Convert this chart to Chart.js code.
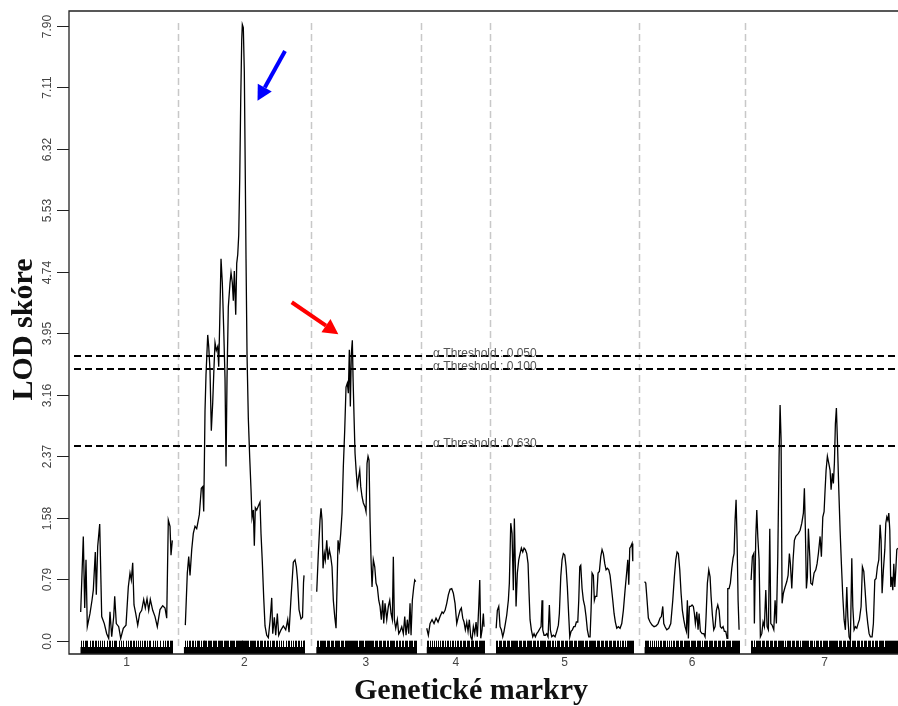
<!DOCTYPE html>
<html>
<head>
<meta charset="utf-8">
<title>LOD skóre</title>
<script src="https://cdn.jsdelivr.net/npm/chart.js@4.4.1/dist/chart.umd.min.js"></script>
<style>
  html, body { margin: 0; padding: 0; background: #ffffff; }
  #wrap { width: 898px; height: 706px; position: relative; }
</style>
</head>
<body>
<div id="wrap"><canvas id="lodChart"></canvas></div>
<script>
// chromosomes and their lengths (cM)
const chromosomes = ["1", "2", "3", "4", "5", "6", "7"];
const chrLength = [92, 121, 99, 58, 137, 95, 147];

// LOD profile per chromosome: position (cM from chromosome start) and LOD score
const chr1Pos = [0.2, 2.8, 4.2, 5.5, 6.8, 9.5, 11.5, 12.8, 14.8, 15.8, 17.2, 19.2, 21.2, 23.8, 26.2, 28.2, 29.5, 31.2, 33.2, 34.2, 35.8, 38.2, 40.2, 42.8, 45.5, 47.8, 49.5, 50.8, 52.2, 53.5, 55.2, 57.2, 59.2, 61.2, 63.2, 64.8, 66.5, 68.2, 69.8, 72.2, 74.5, 76.8, 79.5, 82.2, 84.5, 86.2, 87.8, 89.5, 90.5, 91.8];
const chr1Lod = [0.37, 1.34, 0.42, 1.04, 0.18, 0.35, 0.52, 0.65, 1.14, 0.59, 1.21, 1.50, 0.31, 0.22, 0.09, 0.03, 0.37, 0.05, 0.31, 0.57, 0.22, 0.18, 0.03, 0.16, 0.20, 0.69, 0.87, 0.78, 1.00, 0.46, 0.35, 0.20, 0.35, 0.39, 0.53, 0.42, 0.54, 0.39, 0.53, 0.39, 0.31, 0.18, 0.40, 0.45, 0.42, 0.29, 1.55, 1.47, 1.10, 1.29];

const chr2Pos = [1.4, 3.4, 4.8, 6.1, 7.8, 9.4, 11.1, 12.8, 14.4, 15.4, 17.4, 18.8, 19.8, 20.4, 21.1, 22.1, 23.8, 24.8, 26.1, 27.4, 28.8, 30.1, 31.1, 32.4, 33.8, 34.8, 35.8, 37.1, 38.4, 39.8, 41.1, 42.1, 43.1, 44.4, 46.1, 47.1, 48.4, 49.4, 50.4, 51.8, 52.8, 53.8, 54.8, 55.8, 56.8, 57.8, 58.4, 59.4, 60.4, 61.4, 62.1, 63.1, 64.4, 65.8, 67.1, 68.1, 69.4, 70.4, 71.4, 72.8, 74.4, 76.1, 77.1, 78.4, 79.8, 81.1, 82.8, 84.4, 86.1, 87.8, 88.8, 90.4, 91.8, 93.4, 94.8, 97.1, 99.4, 101.8, 103.8, 105.1, 107.1, 109.4, 111.1, 112.4, 113.6, 115.1, 117.1, 118.6, 119.6, 120.1];
const chr2Lod = [0.20, 0.87, 1.08, 0.84, 1.17, 1.38, 1.47, 1.44, 1.55, 1.62, 1.96, 1.98, 1.66, 2.24, 2.96, 3.42, 3.93, 3.78, 3.47, 2.70, 3.06, 3.52, 3.83, 3.73, 3.78, 3.52, 4.09, 4.91, 4.60, 4.00, 3.37, 2.24, 3.37, 4.29, 4.60, 4.73, 4.60, 4.37, 4.75, 4.19, 4.85, 4.96, 5.21, 5.93, 6.95, 7.72, 7.92, 7.88, 7.31, 5.93, 4.91, 3.68, 2.86, 2.35, 1.94, 1.58, 1.68, 1.22, 1.71, 1.68, 1.73, 1.78, 1.37, 1.01, 0.55, 0.19, 0.07, 0.04, 0.25, 0.55, 0.09, 0.30, 0.07, 0.35, 0.07, 0.14, 0.19, 0.14, 0.27, 0.11, 0.55, 1.01, 1.04, 0.95, 0.78, 0.40, 0.28, 0.30, 0.75, 0.84];

const chr3Pos = [0.4, 2.0, 3.7, 4.7, 5.7, 6.7, 8.0, 9.0, 10.4, 11.7, 13.0, 14.4, 15.7, 17.0, 18.4, 19.7, 20.7, 21.7, 23.0, 24.4, 25.7, 27.0, 28.4, 29.7, 31.0, 32.0, 33.0, 34.0, 35.0, 36.0, 36.7, 37.7, 38.7, 40.0, 41.0, 42.4, 43.4, 44.4, 45.7, 47.0, 48.7, 49.7, 50.7, 51.7, 52.7, 53.7, 54.7, 55.7, 57.0, 58.4, 59.7, 61.0, 62.4, 63.7, 65.0, 66.4, 67.4, 68.7, 70.4, 72.0, 73.4, 74.7, 76.0, 77.0, 78.0, 79.4, 81.0, 82.4, 83.7, 85.4, 87.0, 88.4, 89.7, 91.0, 92.4, 93.7, 94.7, 96.0, 97.4, 98.4, 99.4];
const chr3Lod = [0.63, 1.12, 1.55, 1.70, 1.55, 0.93, 1.12, 1.04, 1.29, 1.04, 1.17, 1.08, 0.95, 0.52, 0.31, 0.16, 0.69, 1.29, 1.17, 1.38, 1.64, 2.24, 2.71, 3.26, 3.31, 3.18, 3.74, 3.01, 3.69, 3.86, 3.39, 2.88, 2.41, 2.15, 1.98, 2.11, 2.19, 1.98, 1.85, 1.77, 1.72, 1.66, 2.28, 2.37, 2.32, 1.55, 1.04, 0.69, 1.04, 0.95, 0.74, 0.69, 0.52, 0.44, 0.27, 0.52, 0.22, 0.48, 0.27, 0.44, 0.52, 0.35, 0.27, 1.08, 0.27, 0.16, 0.27, 0.09, 0.12, 0.18, 0.09, 0.31, 0.07, 0.27, 0.09, 0.48, 0.07, 0.52, 0.69, 0.78, 0.76];

const chr4Pos = [0.0, 1.6, 3.3, 5.3, 7.3, 9.3, 11.3, 13.3, 15.3, 16.6, 18.3, 20.0, 21.6, 23.3, 25.0, 26.6, 28.3, 30.0, 31.6, 33.3, 34.6, 36.0, 37.3, 38.6, 40.0, 41.3, 42.6, 44.0, 45.3, 46.6, 48.0, 49.3, 50.6, 52.0, 53.0, 54.0, 55.3, 56.6, 57.3];
const chr4Lod = [0.16, 0.07, 0.22, 0.27, 0.22, 0.29, 0.24, 0.31, 0.37, 0.35, 0.39, 0.48, 0.59, 0.66, 0.67, 0.61, 0.48, 0.22, 0.31, 0.39, 0.42, 0.29, 0.24, 0.14, 0.24, 0.12, 0.27, 0.05, 0.01, 0.18, 0.09, 0.24, 0.05, 0.44, 0.78, 0.03, 0.14, 0.35, 0.18];

const chr5Pos = [0.0, 1.2, 2.6, 3.9, 5.2, 6.6, 7.9, 9.2, 10.6, 12.2, 13.2, 14.6, 15.9, 17.2, 18.2, 19.2, 19.9, 21.2, 22.6, 23.9, 25.2, 26.6, 27.9, 29.2, 30.6, 31.9, 32.9, 33.9, 35.2, 36.6, 37.9, 39.2, 40.6, 42.2, 43.9, 44.9, 45.9, 46.6, 47.9, 49.2, 50.6, 51.9, 53.2, 54.2, 55.6, 57.2, 58.9, 60.6, 62.2, 63.2, 64.6, 65.9, 67.2, 68.6, 69.9, 71.2, 72.6, 73.6, 74.9, 76.2, 77.6, 78.9, 80.2, 81.6, 82.6, 83.6, 84.6, 85.9, 87.2, 88.6, 89.9, 91.2, 92.6, 93.9, 94.9, 95.9, 97.2, 98.2, 99.2, 100.6, 101.9, 103.2, 104.6, 105.9, 107.2, 108.6, 109.9, 111.2, 112.6, 113.9, 115.2, 116.6, 117.9, 119.2, 120.6, 122.2, 123.9, 125.6, 127.2, 128.9, 130.6, 131.6, 132.6, 133.6, 134.6, 135.9, 136.6];
const chr5Lod = [0.16, 0.39, 0.44, 0.18, 0.14, 0.05, 0.12, 0.22, 0.33, 0.52, 0.74, 1.51, 1.38, 0.65, 1.57, 0.95, 0.44, 0.87, 1.04, 1.12, 1.19, 1.14, 1.19, 1.17, 1.12, 0.99, 0.61, 0.27, 0.14, 0.05, 0.09, 0.05, 0.09, 0.12, 0.16, 0.18, 0.52, 0.14, 0.07, 0.07, 0.09, 0.05, 0.46, 0.14, 0.05, 0.07, 0.05, 0.12, 0.20, 0.35, 0.82, 1.04, 1.12, 1.10, 0.95, 0.69, 0.31, 0.05, 0.12, 0.14, 0.18, 0.18, 0.24, 0.24, 0.52, 0.95, 0.97, 0.67, 0.52, 0.44, 0.31, 0.14, 0.05, 0.05, 0.39, 0.87, 0.84, 0.52, 0.57, 0.57, 0.87, 0.89, 1.08, 1.17, 1.12, 0.99, 0.91, 0.93, 0.91, 0.84, 0.69, 0.52, 0.35, 0.24, 0.16, 0.18, 0.16, 0.22, 0.39, 0.65, 0.89, 1.04, 0.72, 1.19, 1.21, 1.25, 1.02];

const chr6Pos = [0.0, 1.2, 2.5, 3.8, 5.5, 7.5, 9.5, 11.5, 13.5, 15.5, 16.8, 18.2, 19.2, 20.5, 22.2, 24.2, 26.2, 28.2, 29.8, 31.2, 32.5, 33.8, 35.2, 36.5, 37.8, 39.2, 40.5, 41.8, 42.8, 43.8, 44.8, 46.2, 47.5, 48.8, 49.8, 50.8, 52.2, 53.5, 54.5, 55.8, 57.5, 59.2, 60.5, 61.5, 62.8, 64.2, 65.5, 66.5, 67.8, 69.2, 70.5, 71.8, 73.2, 74.5, 75.8, 77.2, 78.5, 79.8, 81.2, 82.5, 83.2, 84.5, 85.8, 87.2, 88.5, 89.5, 90.5, 91.5, 92.5, 93.5, 94.5];
const chr6Lod = [0.76, 0.74, 0.52, 0.29, 0.24, 0.20, 0.18, 0.19, 0.22, 0.29, 0.31, 0.44, 0.22, 0.18, 0.14, 0.16, 0.22, 0.52, 0.82, 1.04, 1.14, 1.12, 0.91, 0.61, 0.39, 0.27, 0.18, 0.12, 0.52, 0.03, 0.44, 0.44, 0.46, 0.44, 0.35, 0.22, 0.37, 0.14, 0.35, 0.12, 0.09, 0.09, 0.05, 0.31, 0.74, 0.91, 0.82, 0.57, 0.33, 0.14, 0.18, 0.39, 0.46, 0.39, 0.18, 0.16, 0.18, 0.12, 0.12, 0.03, 0.67, 0.67, 0.74, 0.93, 1.06, 1.12, 1.55, 1.81, 1.29, 0.52, 0.14];

const chr7Pos = [0.1, 1.4, 2.8, 3.4, 4.8, 5.8, 6.8, 8.1, 9.4, 10.8, 12.1, 13.4, 14.8, 16.1, 17.4, 18.8, 19.8, 21.1, 22.8, 24.1, 25.4, 26.8, 28.1, 29.1, 30.1, 31.1, 32.4, 34.1, 35.8, 37.1, 38.4, 39.4, 40.8, 42.1, 43.4, 44.8, 46.1, 47.4, 49.1, 50.8, 52.4, 53.4, 54.4, 55.4, 56.4, 57.4, 58.8, 59.8, 61.4, 63.1, 64.8, 66.1, 67.4, 69.1, 70.4, 71.8, 73.1, 74.1, 75.1, 76.4, 77.8, 79.1, 80.1, 81.4, 82.4, 83.4, 84.4, 85.4, 86.4, 87.8, 89.1, 90.4, 91.8, 93.1, 94.4, 95.8, 96.8, 98.1, 99.4, 100.8, 101.8, 103.1, 104.4, 105.8, 107.1, 108.4, 110.1, 111.4, 112.8, 114.1, 115.4, 116.8, 118.1, 119.4, 121.1, 122.4, 123.8, 125.1, 126.4, 127.8, 129.1, 130.1, 131.1, 132.4, 133.8, 134.8, 135.8, 136.8, 137.8, 138.8, 139.8, 140.8, 141.8, 142.8, 143.8, 144.8, 145.8, 146.8];
const chr7Lod = [0.78, 1.08, 1.12, 0.22, 1.34, 1.68, 1.34, 1.04, 0.05, 0.09, 0.24, 0.18, 0.65, 0.18, 0.14, 1.44, 0.22, 0.20, 0.14, 0.52, 0.22, 1.08, 2.37, 3.03, 2.58, 0.48, 0.61, 0.69, 0.76, 0.84, 1.12, 0.99, 0.67, 1.04, 1.29, 1.34, 1.36, 1.38, 1.42, 1.51, 1.64, 1.96, 1.42, 0.67, 0.82, 1.44, 1.08, 0.74, 0.72, 0.87, 0.91, 0.99, 1.12, 1.34, 1.08, 1.59, 1.66, 1.94, 2.19, 2.37, 2.28, 2.19, 1.94, 2.15, 2.02, 2.28, 2.79, 2.99, 2.58, 1.94, 1.42, 0.99, 0.57, 0.27, 0.14, 0.69, 0.31, 0.05, 0.01, 1.06, 0.44, 0.14, 0.18, 0.16, 0.22, 0.27, 0.44, 0.95, 0.89, 0.65, 0.39, 0.22, 0.09, 0.05, 0.05, 0.22, 0.78, 0.80, 0.95, 1.04, 1.49, 1.29, 0.61, 0.91, 1.17, 1.51, 1.59, 1.55, 1.64, 1.42, 0.69, 0.82, 0.65, 0.99, 0.69, 0.91, 1.17, 1.19];

// permutation thresholds
const thresholdAlpha = ["0.050", "0.100", "0.630"];
const thresholdLod = [3.66, 3.49, 2.50];

// y axis ticks
const yTicks = [0, 0.79, 1.58, 2.37, 3.16, 3.95, 4.74, 5.53, 6.32, 7.11, 7.90];
const yTickLabels = ["0.0", "0.79", "1.58", "2.37", "3.16", "3.95", "4.74", "5.53", "6.32", "7.11", "7.90"];

const chrPos = [chr1Pos, chr2Pos, chr3Pos, chr4Pos, chr5Pos, chr6Pos, chr7Pos];
const chrLod = [chr1Lod, chr2Lod, chr3Lod, chr4Lod, chr5Lod, chr6Lod, chr7Lod];

// genome-wide x coordinate: chromosomes laid end to end with a gap between them
const leftPad = 11.5;
const chrGap = 11.4;
const chrStart = [];
let acc = leftPad;
chrLength.forEach((len) => {
  chrStart.push(acc);
  acc += len + chrGap;
});
const xMax = chrStart[6] + chrLength[6];

const datasets = chromosomes.map((name, i) => ({
  label: "chr" + name,
  data: chrPos[i].map((p, j) => ({ x: chrStart[i] + p, y: chrLod[i][j] })),
  borderColor: "#000000",
  borderWidth: 1.3,
  pointRadius: 0,
  tension: 0,
  fill: false,
}));

const SANS = '"Liberation Sans", Arial, sans-serif';
const SERIF = '"Liberation Serif", "Times New Roman", serif';

function arrow(ctx, x1, y1, x2, y2, color) {
  const ang = Math.atan2(y2 - y1, x2 - x1);
  const headLen = 15;
  const headHalf = 8;
  const bx = x2 - headLen * Math.cos(ang);
  const by = y2 - headLen * Math.sin(ang);
  ctx.save();
  ctx.strokeStyle = color;
  ctx.fillStyle = color;
  ctx.lineWidth = 4;
  ctx.beginPath();
  ctx.moveTo(x1, y1);
  ctx.lineTo(bx, by);
  ctx.stroke();
  ctx.beginPath();
  ctx.moveTo(x2, y2);
  ctx.lineTo(bx + headHalf * Math.sin(ang), by - headHalf * Math.cos(ang));
  ctx.lineTo(bx - headHalf * Math.sin(ang), by + headHalf * Math.cos(ang));
  ctx.closePath();
  ctx.fill();
  ctx.restore();
}

// background guides: chromosome separators and threshold lines
const guides = {
  id: "guides",
  beforeDatasetsDraw(chart) {
    const { ctx, chartArea, scales } = chart;
    const xs = scales.x, ys = scales.y;
    ctx.save();
    // separators between chromosomes
    ctx.strokeStyle = "#c8c8c8";
    ctx.lineWidth = 1.5;
    ctx.setLineDash([7, 4]);
    for (let i = 0; i < chromosomes.length - 1; i++) {
      const mid = (chrStart[i] + chrLength[i] + chrStart[i + 1]) / 2;
      const px = Math.round(xs.getPixelForValue(mid)) + 0.5;
      ctx.beginPath();
      ctx.moveTo(px, chartArea.top + 12);
      ctx.lineTo(px, chartArea.bottom - 8);
      ctx.stroke();
    }
    // thresholds
    ctx.strokeStyle = "#000000";
    ctx.lineWidth = 2;
    ctx.setLineDash([7, 4]);
    thresholdLod.forEach((v) => {
      const py = Math.round(ys.getPixelForValue(v));
      ctx.beginPath();
      ctx.moveTo(chartArea.left + 5, py);
      ctx.lineTo(chartArea.right, py);
      ctx.stroke();
    });
    ctx.setLineDash([]);
    ctx.fillStyle = "#555555";
    ctx.font = "12px " + SANS;
    ctx.textAlign = "left";
    ctx.textBaseline = "alphabetic";
    thresholdLod.forEach((v, i) => {
      const py = ys.getPixelForValue(v);
      ctx.fillText("\u03b1 Threshold : " + thresholdAlpha[i], xs.getPixelForValue(364), py + 1);
    });
    ctx.restore();
  },
  afterDraw(chart) {
    const { ctx, chartArea, scales } = chart;
    const xs = scales.x, ys = scales.y;
    ctx.save();
    // marker rug
    const zeroY = ys.getPixelForValue(0);
    ctx.fillStyle = "#000000";
    chromosomes.forEach((name, i) => {
      const x0 = xs.getPixelForValue(chrStart[i]);
      const x1 = xs.getPixelForValue(chrStart[i] + chrLength[i]);
      ctx.fillRect(x0, chartArea.bottom - 7, x1 - x0, 7);
      chrPos[i].forEach((p) => {
        const px = Math.round(xs.getPixelForValue(chrStart[i] + p));
        ctx.fillRect(px, zeroY, 1, chartArea.bottom - zeroY);
      });
    });
    // plot frame (left, top, bottom)
    ctx.strokeStyle = "#222222";
    ctx.lineWidth = 1.3;
    ctx.beginPath();
    ctx.moveTo(chartArea.right, chartArea.top);
    ctx.lineTo(chartArea.left, chartArea.top);
    ctx.lineTo(chartArea.left, chartArea.bottom);
    ctx.lineTo(chartArea.right, chartArea.bottom);
    ctx.stroke();
    // y ticks and rotated labels
    ctx.lineWidth = 1;
    ctx.fillStyle = "#444444";
    ctx.font = "12px " + SANS;
    ctx.textAlign = "center";
    ctx.textBaseline = "middle";
    yTicks.forEach((v, i) => {
      const py = Math.round(ys.getPixelForValue(v)) + 0.5;
      ctx.beginPath();
      ctx.moveTo(chartArea.left - 12, py);
      ctx.lineTo(chartArea.left, py);
      ctx.stroke();
      ctx.save();
      ctx.translate(chartArea.left - 21, py);
      ctx.rotate(-Math.PI / 2);
      ctx.fillText(yTickLabels[i], 0, 0);
      ctx.restore();
    });
    // chromosome names
    chromosomes.forEach((name, i) => {
      const c = chrStart[i] + chrLength[i] / 2;
      ctx.fillText(name, xs.getPixelForValue(c), chartArea.bottom + 9);
    });
    // axis titles
    ctx.fillStyle = "#111111";
    ctx.font = "bold 30px " + SERIF;
    ctx.textAlign = "center";
    ctx.textBaseline = "alphabetic";
    ctx.fillText("Genetické markry", xs.getPixelForValue(402), chartArea.bottom + 45);
    ctx.save();
    ctx.translate(32, ys.getPixelForValue(4.0));
    ctx.rotate(-Math.PI / 2);
    ctx.fillText("LOD skóre", 0, 0);
    ctx.restore();
    // arrows pointing at the two main peaks
    arrow(ctx, xs.getPixelForValue(216), ys.getPixelForValue(7.58), xs.getPixelForValue(188.5), ys.getPixelForValue(6.94), "#0000ff");
    arrow(ctx, xs.getPixelForValue(222.7), ys.getPixelForValue(4.35), xs.getPixelForValue(269.3), ys.getPixelForValue(3.94), "#ff0000");
    ctx.restore();
  },
};

new Chart(document.getElementById("lodChart"), {
  type: "line",
  data: { datasets: datasets },
  options: {
    animation: false,
    responsive: true,
    maintainAspectRatio: false,
    layout: { padding: { top: 11, right: 0, bottom: 0, left: 0 } },
    plugins: {
      legend: { display: false },
      tooltip: { enabled: false },
    },
    scales: {
      x: {
        type: "linear",
        min: 0,
        max: xMax,
        grid: { display: false },
        border: { display: false },
        ticks: { display: false },
        afterFit: (scale) => {
          scale.height = 52;
        },
      },
      y: {
        type: "linear",
        min: -0.171,
        max: 8.093,
        grid: { display: false },
        border: { display: false },
        ticks: { display: false },
        afterBuildTicks: (scale) => {
          scale.ticks = yTicks.map((v) => ({ value: v }));
        },
        afterFit: (scale) => {
          scale.width = 69;
        },
      },
    },
  },
  plugins: [guides],
});
</script>
</body>
</html>
